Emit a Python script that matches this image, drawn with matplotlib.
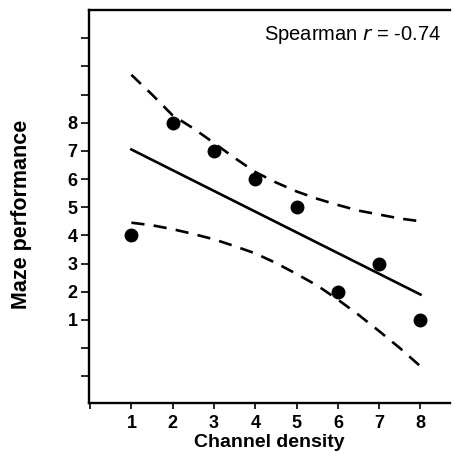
import matplotlib
matplotlib.use("Agg")
import matplotlib.pyplot as plt

# data points
channel_density = [1, 2, 3, 4, 5, 6, 7, 8]
maze_performance = [4, 8, 7, 6, 5, 2, 3, 1]

# regression line
fit_x = [1, 8]
fit_y = [7.05, 1.90]

# confidence band
band_x = [1, 1.5, 2, 2.5, 3, 3.5, 4, 4.5, 5, 5.5, 6, 6.5, 7, 7.5, 8]
band_upper = [9.70, 9.00, 8.26, 7.80, 7.28, 6.75, 6.25, 5.88, 5.56, 5.30, 5.08, 4.88, 4.74, 4.60, 4.50]
band_lower = [4.45, 4.36, 4.22, 4.05, 3.86, 3.62, 3.36, 3.02, 2.63, 2.22, 1.72, 1.18, 0.60, 0.00, -0.65]

xticks = [0, 1, 2, 3, 4, 5, 6, 7, 8]
xticklabels = ["", "1", "2", "3", "4", "5", "6", "7", "8"]
yticks = [-1, 0, 1, 2, 3, 4, 5, 6, 7, 8, 9, 10, 11]
yticklabels = ["", "", "1", "2", "3", "4", "5", "6", "7", "8", "", "", ""]

plt.rcParams['font.family'] = ['Liberation Sans', 'DejaVu Sans']

fig = plt.figure(figsize=(4.58, 4.70), dpi=100)
ax = fig.add_axes([0.194, 0.1426, 0.789, 0.836])

ax.plot(channel_density, maze_performance, 'o', color='black', markersize=9)
ax.plot(fit_x, fit_y, '-', color='black', linewidth=1.9)
ax.plot(band_x, band_upper, color='black', linewidth=1.9, dashes=(5, 3.5))
ax.plot(band_x, band_lower, color='black', linewidth=1.9, dashes=(5, 3.5))

ax.set_xlim(-0.03, 8.72)
ax.set_ylim(-1.95, 12.0)
ax.set_xticks(xticks)
ax.set_xticklabels(xticklabels, fontsize=13, fontweight='bold')
ax.set_yticks(yticks)
ax.set_yticklabels(yticklabels, fontsize=13, fontweight='bold')

ax.spines['right'].set_visible(False)
for s in ['left', 'bottom', 'top']:
    ax.spines[s].set_linewidth(1.7)
ax.tick_params(axis='y', direction='out', length=6, width=1.2, pad=2)
ax.tick_params(axis='x', direction='out', length=4, width=1.2, pad=5)

ax.set_xlabel("Channel density", fontsize=14, fontweight='bold', labelpad=1)
ax.set_ylabel("Maze performance", fontsize=15.5, fontweight='bold')
ax.yaxis.set_label_coords(-0.157, 0.48)

ax.text(0.975, 0.936, r"Spearman $\it{r}$ = -0.74", transform=ax.transAxes,
        ha='right', va='center', fontsize=14.5)

fig.savefig("out.png", dpi=100)
